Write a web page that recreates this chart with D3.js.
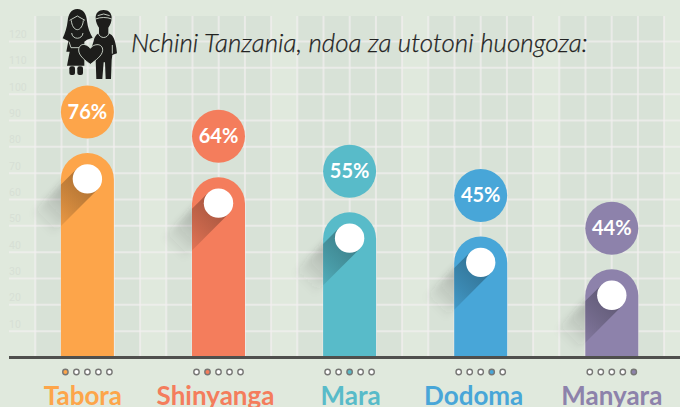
<!DOCTYPE html>
<html>
<head>
<meta charset="utf-8">
<script src="https://cdn.jsdelivr.net/npm/d3@7"></script>
<style>
	html, body { margin: 0; padding: 0; background: #e0e9dd; overflow: hidden; }
	svg { display: block; }
</style>
</head>
<body>
<svg width="680" height="407"></svg>
<script>
// chart values
var regions = ["Tabora", "Shinyanga", "Mara", "Dodoma", "Manyara"];
var percents = [76, 64, 55, 45, 44];
// the bars in the picture do not follow the percents, so their height is read off the grid
var barHeights = [77.5, 68.3, 55, 45.8, 33.3];
var colors = ["#fda54a", "#f47d5c", "#58bbc9", "#48a6d8", "#8d82ab"];
var yTicks = [10, 20, 30, 40, 50, 60, 70, 80, 90, 100, 110, 120];
var titleText = "Nchini Tanzania, ndoa za utotoni huongoza:";

var svg = d3.select("svg"),
	width = +svg.attr("width"),
	height = +svg.attr("height");

var barWidth = 53,
	bubbleGap = 41,
	dotRow = [0, 1, 2, 3, 4],
	labelShift = [-4.5, -3, 1, -7, 0]; // names are not quite centred under the bars

var y = d3.scaleLinear().domain([0, 120]).range([357, 41]);
var x = d3.scalePoint().domain(regions).range([87.4, 611.8]);
var dotX = d3.scalePoint().domain(dotRow).range([-22, 22]);
var gridX = d3.scaleLinear().domain([0, 1]).range([35.3, 61.5]);

var defs = svg.append("defs");

//------- background tiles
svg.append("rect")
	.attr("x", gridX(0))
	.attr("y", 16)
	.attr("width", width - gridX(0))
	.attr("height", y(0) - 16)
	.attr("fill", "#d8e2d7");

// every fifth column stays light
svg.append("g").selectAll("rect")
	.data([4, 9, 14, 19, 24])
	.enter().append("rect")
		.attr("x", function(d) { return gridX(d); })
		.attr("y", 16)
		.attr("width", gridX(1) - gridX(0))
		.attr("height", y(0) - 16)
		.attr("fill", "#e0e9dd");

svg.append("rect")
	.attr("x", gridX(25))
	.attr("y", 16)
	.attr("width", 20)
	.attr("height", y(0) - 16)
	.attr("fill", "#e0e9dd");

// vertical grid
svg.append("g").selectAll("line")
	.data(d3.range(0, 25))
	.enter().append("line")
		.attr("x1", function(d) { return gridX(d); })
		.attr("x2", function(d) { return gridX(d); })
		.attr("y1", 16)
		.attr("y2", y(0))
		.attr("stroke", "#f2f0f0")
		.attr("stroke-opacity", 0.7)
		.attr("stroke-width", 2);

// horizontal grid and the faint tick labels
var axis = svg.append("g")
	.attr("transform", "translate(9,0)")
	.call(d3.axisRight(y).tickValues(yTicks).tickSize(width - 9).tickFormat(d3.format("d")));
axis.select(".domain").remove();
axis.selectAll("line")
	.attr("stroke", "#f2f0f0")
	.attr("stroke-opacity", 0.7)
	.attr("stroke-width", 2);
axis.selectAll("text")
	.attr("x", 0)
	.attr("dy", -3.5)
	.attr("fill", "#d7dfd5")
	.style("font-family", "Roboto")
	.style("font-size", "10.5px");

//------- shadows
var shadowLength = 66,
	dotRadius = 14.7;

function dotCenter(d) {
	return { x: x(d.region), y: y(d.bar) + 26 };
}

function shadowPath(d) {
	var c = dotCenter(d),
		k = Math.SQRT1_2,
		r = dotRadius;
	return d3.line()([
		[c.x + k * r, c.y + k * r],
		[c.x - k * r, c.y - k * r],
		[c.x - k * r - k * shadowLength, c.y - k * r + k * shadowLength],
		[c.x + k * r - k * shadowLength, c.y + k * r + k * shadowLength]
	]) + "Z";
}

function barPath(d) {
	var left = x(d.region) - barWidth / 2,
		r = barWidth / 2;
	return "M" + left + "," + y(0) +
		"V" + (y(d.bar) + r) +
		"A" + r + "," + r + " 0 0 1 " + (left + barWidth) + "," + (y(d.bar) + r) +
		"V" + y(0) + "Z";
}

var rows = regions.map(function(region, i) {
	return { region: region, percent: percents[i], bar: barHeights[i], color: colors[i], index: i };
});

// one gradient for the tiles (grey) and one for the bar (darker bar colour)
function addShadowGradient(prefix, stopColor, first, middle) {
	var grads = defs.selectAll("linearGradient." + prefix)
		.data(rows)
		.enter().append("linearGradient")
			.attr("class", prefix)
			.attr("id", function(d) { return prefix + d.index; })
			.attr("gradientUnits", "userSpaceOnUse")
			.attr("x1", function(d) { return dotCenter(d).x; })
			.attr("y1", function(d) { return dotCenter(d).y; })
			.attr("x2", function(d) { return dotCenter(d).x - shadowLength * Math.SQRT1_2; })
			.attr("y2", function(d) { return dotCenter(d).y + shadowLength * Math.SQRT1_2; });
	grads.append("stop").attr("offset", 0).attr("stop-color", stopColor).attr("stop-opacity", first);
	grads.append("stop").attr("offset", 0.5).attr("stop-color", stopColor).attr("stop-opacity", middle);
	grads.append("stop").attr("offset", 1).attr("stop-color", stopColor).attr("stop-opacity", 0);
}

addShadowGradient("tileShadow", "#3a3a3a", 0.34, 0.21);
addShadowGradient("barShadow", function(d) { return d3.rgb(d.color).darker(3); }, 0.48, 0.26);

defs.append("filter")
	.attr("id", "soft")
	.attr("x", "-30%").attr("y", "-30%").attr("width", "160%").attr("height", "160%")
	.append("feGaussianBlur").attr("stdDeviation", 3);

defs.selectAll("clipPath")
	.data(rows)
	.enter().append("clipPath")
		.attr("id", function(d) { return "clip" + d.index; })
		.append("path")
		.attr("d", barPath);

var group = svg.append("g").selectAll("g")
	.data(rows)
	.enter().append("g");

// soft part on the tiles
group.append("path")
	.attr("d", shadowPath)
	.attr("fill", function(d) { return "url(#tileShadow" + d.index + ")"; })
	.attr("filter", "url(#soft)");

group.append("path")
	.attr("d", barPath)
	.attr("fill", function(d) { return d.color; });

// sharp part on the bar
group.append("path")
	.attr("d", shadowPath)
	.attr("fill", function(d) { return "url(#barShadow" + d.index + ")"; })
	.attr("clip-path", function(d) { return "url(#clip" + d.index + ")"; });

group.append("circle")
	.attr("cx", function(d) { return dotCenter(d).x; })
	.attr("cy", function(d) { return dotCenter(d).y; })
	.attr("r", dotRadius)
	.attr("fill", "#fff");

// percent bubbles
group.append("circle")
	.attr("cx", function(d) { return x(d.region); })
	.attr("cy", function(d) { return y(d.bar) - bubbleGap; })
	.attr("r", barWidth / 2)
	.attr("fill", function(d) { return d.color; });

group.append("text")
	.attr("x", function(d) { return x(d.region); })
	.attr("y", function(d) { return y(d.bar) - bubbleGap + 7; })
	.attr("text-anchor", "middle")
	.attr("fill", "#fff")
	.style("font-family", "Lato")
	.style("font-weight", 700)
	.style("font-size", "20px")
	.text(function(d) { return d.percent + "%"; });

//------- baseline
svg.append("line")
	.attr("x1", 9)
	.attr("x2", width)
	.attr("y1", y(0) + 0.5)
	.attr("y2", y(0) + 0.5)
	.attr("stroke", "#4f4f4d")
	.attr("stroke-width", 3);

// five small dots, the filled one tells the rank
group.selectAll(".rank")
	.data(function(d) {
		return dotRow.map(function(n) { return { n: n, parent: d }; });
	})
	.enter().append("circle")
		.attr("class", "rank")
		.attr("cx", function(d) { return x(d.parent.region) + dotX(d.n); })
		.attr("cy", 372)
		.attr("r", 2.7)
		.attr("stroke", "#777775")
		.attr("stroke-width", 1.4)
		.attr("fill", function(d) { return d.n == d.parent.index ? d.parent.color : "#fff"; });

group.append("text")
	.attr("x", function(d) { return x(d.region) + labelShift[d.index]; })
	.attr("y", 405)
	.attr("text-anchor", "middle")
	.attr("fill", function(d) { return d.color; })
	.style("font-family", "Lato")
	.style("font-weight", 700)
	.style("font-size", "26px")
	.text(function(d) { return d.region; });

//------- title
svg.append("text")
	.attr("x", 131)
	.attr("y", 52)
	.attr("fill", "#222")
	.attr("stroke", "#222")
	.attr("stroke-width", 0.25)
	.style("font-family", "Lato")
	.style("font-style", "italic")
	.style("font-weight", 300)
	.style("font-size", "25.95px")
	.text(titleText);

//------- couple icon
var icon = svg.append("g")
	.attr("transform", "translate(55,5) scale(0.3333)");
var ink = "#1d1d1b", cut = "#e0e9dd";

// bride
icon.append("path").attr("fill", ink)
	.attr("d", "M67,12C48,12 40,28 38,48C36,68 30,85 23,100L40,108L34,140L44,140L36,182L88,182L88,110L96,104L113,98C105,85 98,68 96,48C94,28 86,12 67,12Z");
icon.append("rect").attr("fill", ink).attr("x", 43).attr("y", 184).attr("width", 17).attr("height", 26).attr("rx", 6);
icon.append("rect").attr("fill", ink).attr("x", 67).attr("y", 184).attr("width", 17).attr("height", 26).attr("rx", 6);
icon.append("path").attr("fill", "none").attr("stroke", cut).attr("stroke-width", 2.5)
	.attr("d", "M44,46L67,33L90,46M49,46C50,62 58,74 67,74C76,74 84,62 85,46M50,84C52,105 82,105 84,84M42,110L48,128L72,128");

// groom
icon.append("path").attr("fill", ink)
	.attr("d", "M146,15C130,15 122,25 122,38C122,52 128,62 132,68L132,84C122,90 118,98 116,108L106,140L120,145L122,165L124,222L142,222L146,172L150,172L152,222L168,222L170,165L172,150L186,145C184,125 180,100 170,90L160,84L160,68C166,60 170,50 170,38C170,25 162,15 146,15Z");
icon.append("path").attr("fill", "none").attr("stroke", cut).attr("stroke-width", 2.5)
	.attr("d", "M122,42C135,36 157,36 170,42M128,32L146,27L164,32M130,84C134,102 158,102 162,84M172,120L172,146M124,120L124,145");

// heart
icon.append("path").attr("fill", ink).attr("stroke", cut).attr("stroke-width", 2.5)
	.attr("d", "M106,178C90,166 71,152 71,135C71,122 82,116 90,119C97,121 103,125 106,130C110,124 118,119 126,119C136,118 144,126 143,136C142,152 122,166 106,178Z");
</script>
</body>
</html>
